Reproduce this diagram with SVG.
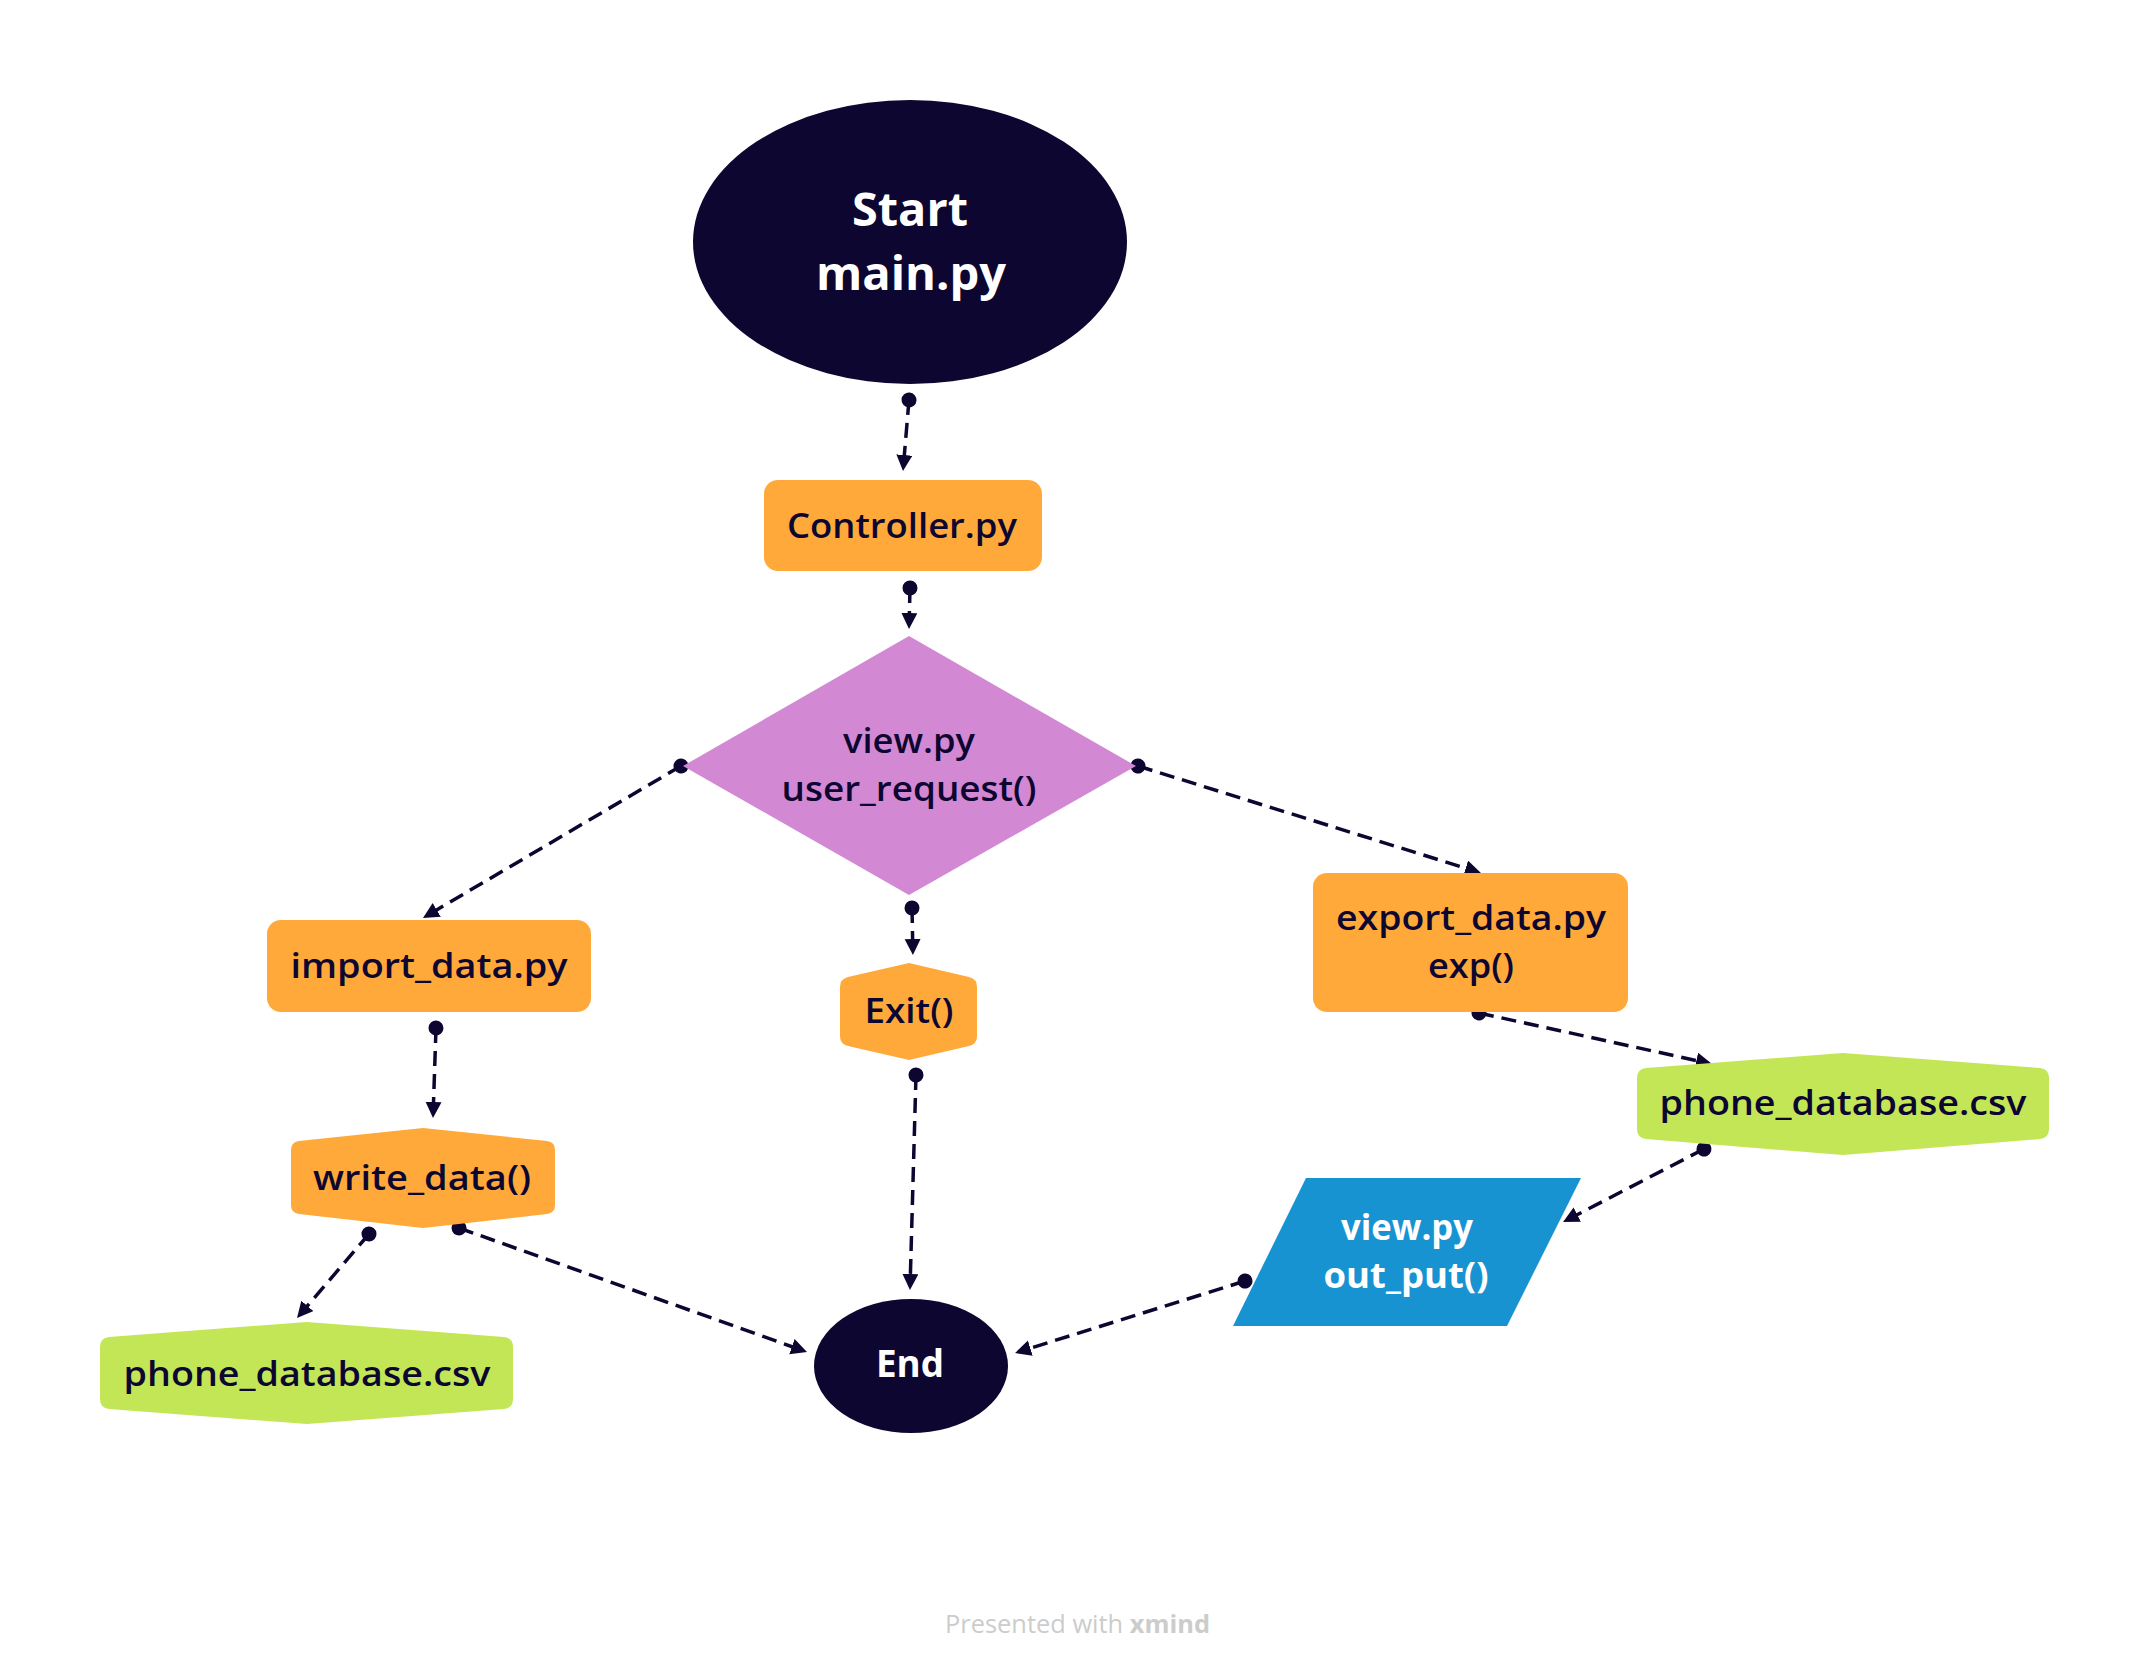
<svg xmlns="http://www.w3.org/2000/svg" width="2150" height="1674" viewBox="0 0 2150 1674">
<defs>
<style>
.lbl{font-family:"Open Sans","Liberation Sans",sans-serif;font-weight:600;fill:#0c0630;text-anchor:middle;font-size:35px}
.wl{font-family:"Open Sans","Liberation Sans",sans-serif;font-weight:700;fill:#ffffff;text-anchor:middle}
.orange{fill:#ffa93a}
.green{fill:#c3e657}
.navy{fill:#0c0630}
.conn{fill:none;stroke:#0c0630;stroke-width:3.5;stroke-dasharray:15 8;marker-start:url(#dot);marker-end:url(#arr)}
</style>
<marker id="dot" markerUnits="userSpaceOnUse" markerWidth="18" markerHeight="18" refX="9" refY="9" orient="auto">
<circle cx="9" cy="9" r="7.5" fill="#0c0630"/>
</marker>
<marker id="arr" markerUnits="userSpaceOnUse" markerWidth="18" markerHeight="18" refX="4" refY="8" orient="auto">
<path d="M0,0 L16,8 L0,16 z" fill="#0c0630"/>
</marker>
</defs>
<rect width="2150" height="1674" fill="#ffffff"/>

<g id="connectors">
<line class="conn" x1="909" y1="400" x2="904" y2="459"/>
<line class="conn" x1="910" y1="588" x2="909.3" y2="617"/>
<line class="conn" x1="681" y1="766" x2="433.3" y2="911.9"/>
<line class="conn" x1="912" y1="908" x2="912.7" y2="943"/>
<line class="conn" x1="1138" y1="766" x2="1469.5" y2="869.4"/>
<line class="conn" x1="436" y1="1028" x2="433.4" y2="1106"/>
<line class="conn" x1="369" y1="1234" x2="304.8" y2="1308.9"/>
<line class="conn" x1="459" y1="1228" x2="795.7" y2="1348"/>
<line class="conn" x1="916" y1="1075" x2="910.3" y2="1278"/>
<line class="conn" x1="1479" y1="1013" x2="1700.3" y2="1061.4"/>
<line class="conn" x1="1704" y1="1149" x2="1573.7" y2="1216.5"/>
<line class="conn" x1="1245" y1="1281" x2="1026.5" y2="1349.4"/>
</g>

<g id="start">
<ellipse class="navy" cx="910" cy="242" rx="217" ry="142"/>
<text class="wl" x="910" y="226" font-size="46" textLength="116" lengthAdjust="spacingAndGlyphs">Start</text>
<text class="wl" x="911" y="290" font-size="46" textLength="190" lengthAdjust="spacingAndGlyphs">main.py</text>
</g>

<g id="controller">
<rect class="orange" x="764" y="480" width="278" height="91" rx="14"/>
<text class="lbl" x="902" y="538" textLength="230" lengthAdjust="spacingAndGlyphs">Controller.py</text>
</g>

<g id="view-request">
<polygon points="909,636 1136,766 909,895 683,766" fill="#d388d4"/>
<text class="lbl" x="909" y="753" textLength="132" lengthAdjust="spacingAndGlyphs">view.py</text>
<text class="lbl" x="909" y="801" textLength="255" lengthAdjust="spacingAndGlyphs">user_request()</text>
</g>

<g id="import-data">
<rect class="orange" x="267" y="920" width="324" height="92" rx="14"/>
<text class="lbl" x="429" y="978" textLength="277" lengthAdjust="spacingAndGlyphs">import_data.py</text>
</g>

<g id="write-data">
<path class="orange" d="M423,1128 L547,1141 Q555,1142 555,1150 L555,1205 Q555,1213 547,1214 L423,1228 L299,1214 Q291,1213 291,1205 L291,1150 Q291,1142 299,1141 Z"/>
<text class="lbl" x="422" y="1190" textLength="218" lengthAdjust="spacingAndGlyphs">write_data()</text>
</g>

<g id="phone-db-left">
<path class="green" d="M307,1322 L504,1337 Q513,1338 513,1347 L513,1399 Q513,1408 504,1409 L307,1424 L109,1409 Q100,1408 100,1399 L100,1347 Q100,1338 109,1337 Z"/>
<text class="lbl" x="307" y="1386" textLength="367" lengthAdjust="spacingAndGlyphs">phone_database.csv</text>
</g>

<g id="exit">
<path class="orange" d="M909,963 L969,977 Q977,979 977,987 L977,1036 Q977,1044 969,1046 L909,1060 L848,1046 Q840,1044 840,1036 L840,987 Q840,979 848,977 Z"/>
<text class="lbl" x="909" y="1023" textLength="89" lengthAdjust="spacingAndGlyphs">Exit()</text>
</g>

<g id="export-data">
<rect class="orange" x="1313" y="873" width="315" height="139" rx="14"/>
<text class="lbl" x="1471" y="930" textLength="270" lengthAdjust="spacingAndGlyphs">export_data.py</text>
<text class="lbl" x="1471" y="978" textLength="86" lengthAdjust="spacingAndGlyphs">exp()</text>
</g>

<g id="phone-db-right">
<path class="green" d="M1843,1053 L2040,1068 Q2049,1069 2049,1078 L2049,1129 Q2049,1138 2040,1139 L1843,1155 L1646,1139 Q1637,1138 1637,1129 L1637,1078 Q1637,1069 1646,1068 Z"/>
<text class="lbl" x="1843" y="1115" textLength="367" lengthAdjust="spacingAndGlyphs">phone_database.csv</text>
</g>

<g id="view-output">
<polygon points="1306,1178 1581,1178 1507,1326 1233,1326" fill="#1893d2"/>
<text class="wl" x="1407" y="1240" font-size="35" textLength="132" lengthAdjust="spacingAndGlyphs">view.py</text>
<text class="wl" x="1406" y="1288" font-size="35" textLength="165" lengthAdjust="spacingAndGlyphs">out_put()</text>
</g>

<g id="end">
<ellipse class="navy" cx="911" cy="1366" rx="97" ry="67"/>
<text class="wl" x="910" y="1377" font-size="37" textLength="68" lengthAdjust="spacingAndGlyphs">End</text>
</g>

<text x="945" y="1633" font-family="Open Sans, Liberation Sans, sans-serif" font-size="25" fill="#cccccc" textLength="265" lengthAdjust="spacingAndGlyphs">Presented with <tspan font-weight="700">xmind</tspan></text>
</svg>
